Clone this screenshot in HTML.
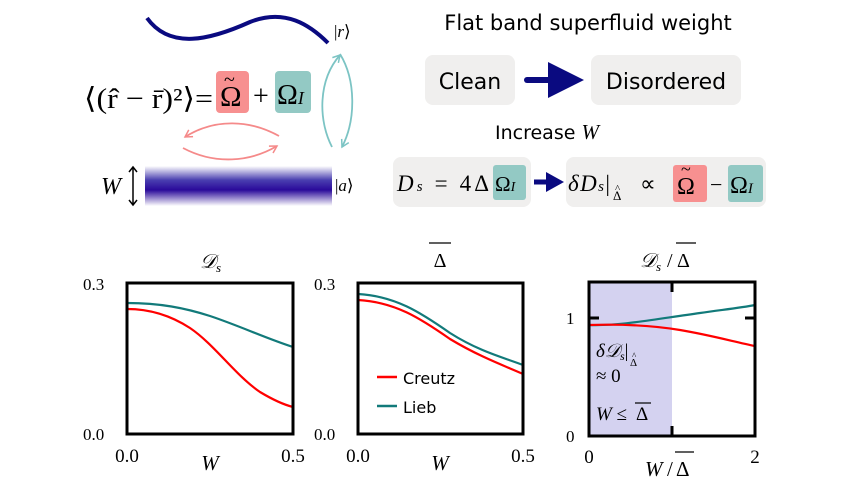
<!DOCTYPE html>
<html><head><meta charset="utf-8"><style>
html,body{margin:0;padding:0;background:#fff;width:860px;height:484px;overflow:hidden}
text{font-family:"Liberation Serif",serif}
.s{font-family:"DejaVu Sans","Liberation Sans",sans-serif}
</style></head><body>
<svg width="860" height="484" viewBox="0 0 860 484" xmlns="http://www.w3.org/2000/svg">
<defs>
<linearGradient id="band" x1="0" y1="0" x2="0" y2="1">
<stop offset="0" stop-color="#fff"/><stop offset="0.35" stop-color="#4a3fb0"/><stop offset="0.6" stop-color="#2a0a9a"/><stop offset="1" stop-color="#fff"/>
</linearGradient>
<marker id="ac" markerWidth="10" markerHeight="10" refX="8" refY="5" orient="auto" markerUnits="userSpaceOnUse"><path d="M1,1 L8,5 L1,9" fill="none" stroke="#7cc4c4" stroke-width="1.5"/></marker>
<marker id="ap" markerWidth="10" markerHeight="10" refX="8" refY="5" orient="auto" markerUnits="userSpaceOnUse"><path d="M1,1 L8,5 L1,9" fill="none" stroke="#f58a8a" stroke-width="1.5"/></marker>
</defs>
<!-- left schematic -->
<path d="M147,18 C170,50 210,40 250,22 C285,8 310,25 328,43" fill="none" stroke="#0a0a80" stroke-width="4"/>
<text x="334" y="37" font-size="17">|<tspan font-style="italic">r</tspan>⟩</text>
<text x="84" y="108" font-size="29" textLength="129" lengthAdjust="spacingAndGlyphs">⟨(r̂ − r̄)²⟩=</text>
<rect x="216" y="71" width="33" height="42" rx="4" fill="#f79090"/>
<text x="220" y="106" font-size="29">Ω</text>
<text x="224" y="86" font-size="20">~</text>
<text x="253" y="105" font-size="28">+</text>
<rect x="275" y="71" width="36" height="42" rx="4" fill="#93c9c4"/>
<text x="277" y="104" font-size="28">Ω<tspan font-size="18" font-style="italic">I</tspan></text>
<path d="M332,147 C318,120 318,80 340,55" fill="none" stroke="#7cc4c4" stroke-width="1.8" marker-end="url(#ac)"/>
<path d="M340,54 C356,80 356,120 342,147" fill="none" stroke="#7cc4c4" stroke-width="1.8" marker-end="url(#ac)"/>
<path d="M279,136 C250,120 215,118 185,137" fill="none" stroke="#f58a8a" stroke-width="1.8" marker-end="url(#ap)"/>
<path d="M183,148 C215,165 250,162 277,146" fill="none" stroke="#f58a8a" stroke-width="1.8" marker-end="url(#ap)"/>
<rect x="145" y="166" width="187" height="40" fill="url(#band)"/>
<text x="335" y="191" font-size="17">|<tspan font-style="italic">a</tspan>⟩</text>
<text x="101" y="194" font-size="24" font-style="italic">W</text>
<path d="M133,168 L133,204 M129,172 L133,167 L137,172 M129,200 L133,205 L137,200" fill="none" stroke="#000" stroke-width="1.5"/>
<!-- top right -->
<text class="s" x="588" y="30" font-size="21" text-anchor="middle">Flat band superfluid weight</text>
<rect x="425" y="55" width="90" height="50" rx="8" fill="#f0efee"/>
<text class="s" x="470" y="89" font-size="22" text-anchor="middle">Clean</text>
<rect x="591" y="55" width="150" height="50" rx="8" fill="#f0efee"/>
<text class="s" x="666" y="89" font-size="22" text-anchor="middle">Disordered</text>
<path d="M527,80 L550,80" stroke="#0a0a80" stroke-width="6" stroke-linecap="round"/>
<path d="M548,62 L584,80 L548,98 Z" fill="#0a0a80"/>
<text class="s" x="495" y="139" font-size="19">Increase <tspan font-family="Liberation Serif" font-style="italic" font-size="21">W</tspan></text>
<rect x="393" y="157" width="138" height="50" rx="8" fill="#f0efee"/>
<text x="397" y="191" font-size="23" textLength="92" lengthAdjust="spacing"><tspan font-style="italic">D</tspan><tspan font-size="15" font-style="italic">s</tspan> = 4Δ</text>
<rect x="493" y="165" width="33" height="35" rx="3" fill="#93c9c4"/>
<text x="495" y="191" font-size="21">Ω<tspan font-size="14" font-style="italic">I</tspan></text>
<path d="M534,182 L548,182" stroke="#0a0a80" stroke-width="5"/>
<path d="M546,172 L564,182 L546,192 Z" fill="#0a0a80"/>
<rect x="566" y="157" width="200" height="50" rx="8" fill="#f0efee"/>
<text x="568" y="191" font-size="23" textLength="42" lengthAdjust="spacing"><tspan font-style="italic">δD</tspan><tspan font-size="15" font-style="italic">s</tspan>|</text>
<text x="613" y="200" font-size="13">Δ</text>
<text x="615" y="192" font-size="11">^</text>
<text x="640" y="191" font-size="22">∝</text>
<rect x="673" y="165" width="34" height="37" rx="3" fill="#f79090"/>
<text x="677" y="194" font-size="24">Ω</text>
<text x="681" y="175" font-size="18">~</text>
<text x="710" y="192" font-size="22">−</text>
<rect x="728" y="165" width="35" height="37" rx="3" fill="#93c9c4"/>
<text x="730" y="193" font-size="24">Ω<tspan font-size="15" font-style="italic">I</tspan></text>
<!-- plot 1 -->
<text x="200" y="268" font-size="20" font-style="italic">𝒟<tspan font-size="13" dy="4">s</tspan></text>
<path d="M127,303 C160,303 185,308 210,316 C240,326 265,338 293,347" fill="none" stroke="#127a7a" stroke-width="2.2"/>
<path d="M127,309 C150,309 170,315 190,328 C215,345 235,375 260,392 C275,401 285,405 293,407" fill="none" stroke="#f00" stroke-width="2.2"/>
<rect x="127" y="283" width="166" height="151" fill="none" stroke="#000" stroke-width="3"/>
<text x="83" y="290" font-size="17">0.3</text>
<text x="83" y="440" font-size="17">0.0</text>
<text x="127" y="462" font-size="19" text-anchor="middle">0.0</text>
<text x="293" y="462" font-size="19" text-anchor="middle">0.5</text>
<text x="210" y="470" font-size="21" font-style="italic" text-anchor="middle">W</text>
<!-- plot 2 -->
<text x="440" y="267" font-size="20" text-anchor="middle">Δ</text>
<path d="M429,243 L451,243" stroke="#000" stroke-width="1.3"/>
<path d="M358,294 C395,296 420,312 450,333 C480,352 505,358 523,365" fill="none" stroke="#127a7a" stroke-width="2.2"/>
<path d="M358,300 C395,302 420,318 450,339 C480,357 505,366 523,374" fill="none" stroke="#f00" stroke-width="2.2"/>
<rect x="358" y="283" width="165" height="151" fill="none" stroke="#000" stroke-width="3"/>
<path d="M377,377 L397,377" stroke="#f00" stroke-width="2.5"/>
<text class="s" x="403" y="384" font-size="16">Creutz</text>
<path d="M377,406 L397,406" stroke="#127a7a" stroke-width="2.5"/>
<text class="s" x="403" y="413" font-size="16">Lieb</text>
<text x="314" y="290" font-size="17">0.3</text>
<text x="314" y="440" font-size="17">0.0</text>
<text x="358" y="462" font-size="19" text-anchor="middle">0.0</text>
<text x="523" y="462" font-size="19" text-anchor="middle">0.5</text>
<text x="440" y="470" font-size="21" font-style="italic" text-anchor="middle">W</text>
<!-- plot 3 -->
<text x="640" y="267" font-size="20" font-style="italic">𝒟<tspan font-size="13" dy="4">s</tspan></text>
<text x="667" y="267" font-size="20">/</text>
<text x="677" y="267" font-size="20">Δ</text>
<path d="M676,243 L696,243" stroke="#000" stroke-width="1.3"/>
<rect x="589" y="282" width="83" height="154" fill="#d4d2f0"/>
<path d="M589,325 C620,326 650,320 700,313 C720,310 740,308 755,305" fill="none" stroke="#127a7a" stroke-width="2.2"/>
<path d="M589,325 C620,324 650,325 680,330 C710,335 735,342 755,346" fill="none" stroke="#f00" stroke-width="2.2"/>
<rect x="589" y="282" width="166" height="154" fill="none" stroke="#000" stroke-width="3"/>
<path d="M589,318 L599,318 M755,318 L745,318 M672,282 L672,292 M672,436 L672,426" stroke="#000" stroke-width="3"/>
<text x="566" y="324" font-size="17">1</text>
<text x="566" y="442" font-size="17">0</text>
<text x="589" y="463" font-size="19" text-anchor="middle">0</text>
<text x="755" y="463" font-size="19" text-anchor="middle">2</text>
<text x="645" y="476" font-size="21" font-style="italic">W</text>
<text x="667" y="476" font-size="21">/</text>
<text x="676" y="476" font-size="21">Δ</text>
<path d="M675,452 L694,452" stroke="#000" stroke-width="1.3"/>
<text x="596" y="357" font-size="19"><tspan font-style="italic">δ𝒟</tspan><tspan font-size="12" font-style="italic" dy="3">s</tspan><tspan dy="-3">|</tspan></text>
<text x="630" y="366" font-size="11">Δ</text>
<text x="632" y="359" font-size="9">^</text>
<text x="596" y="382" font-size="19">≈ 0</text>
<text x="596" y="420" font-size="19"><tspan font-style="italic">W</tspan> ≤</text>
<text x="636" y="420" font-size="19">Δ</text>
<path d="M635,403 L651,403" stroke="#000" stroke-width="1.2"/>
</svg>
</body></html>
